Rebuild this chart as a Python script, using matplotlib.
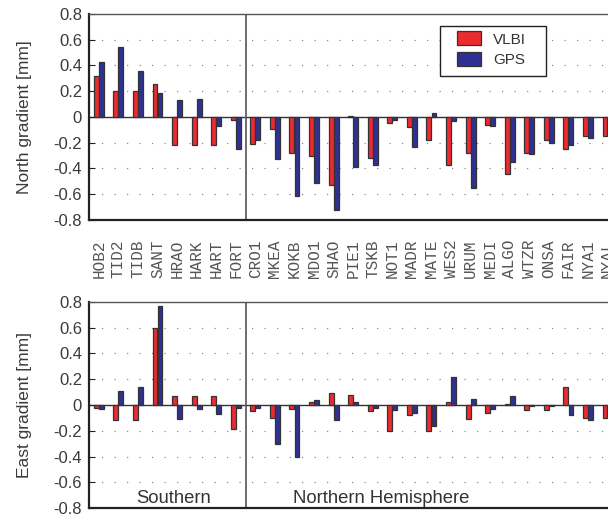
import numpy as np
import matplotlib
matplotlib.use("Agg")
import matplotlib.pyplot as plt
from matplotlib.patches import Rectangle

plt.rcParams.update({"font.family": "Liberation Sans", "axes.unicode_minus": False,
                     "font.size": 12})

RED = "#ed2a30"
BLUE = "#2e3192"
EDGE = "#333333"

stations = ["HOB2", "TID2", "TIDB", "SANT", "HRAO", "HARK", "HART", "FORT",
            "CRO1", "MKEA", "KOKB", "MDO1", "SHAO", "PIE1", "TSKB", "NOT1",
            "MADR", "MATE", "WES2", "URUM", "MEDI", "ALGO", "WTZR", "ONSA",
            "FAIR", "NYA1", "NYAL"]

# north gradients [mm]
north_vlbi = [0.32, 0.20, 0.20, 0.26, -0.22, -0.22, -0.22, -0.02,
              -0.21, -0.09, -0.28, -0.30, -0.53, 0.01, -0.32, -0.05,
              -0.08, -0.18, -0.37, -0.28, -0.06, -0.44, -0.28, -0.18,
              -0.25, -0.15, -0.15]
north_gps = [0.43, 0.54, 0.36, 0.19, 0.13, 0.14, -0.07, -0.25,
             -0.18, -0.33, -0.61, -0.51, -0.72, -0.39, -0.37, -0.02,
             -0.23, 0.03, -0.03, -0.55, -0.07, -0.35, -0.29, -0.20,
             -0.22, -0.16, -0.15]

# east gradients [mm]
east_vlbi = [-0.02, -0.12, -0.12, 0.60, 0.07, 0.07, 0.07, -0.19,
             -0.05, -0.10, -0.03, 0.02, 0.09, 0.08, -0.05, -0.20,
             -0.08, -0.20, 0.02, -0.11, -0.06, 0.01, -0.04, -0.04,
             0.14, -0.10, -0.10]
east_gps = [-0.03, 0.11, 0.14, 0.77, -0.11, -0.03, -0.07, -0.02,
            -0.02, -0.30, -0.40, 0.04, -0.12, 0.02, -0.02, -0.04,
            -0.06, -0.16, 0.22, 0.05, -0.03, 0.07, -0.01, -0.01,
            -0.08, -0.12, -0.10]

x = np.arange(len(stations))
n_south = 8
W = 0.25

fig = plt.figure(figsize=(6.08, 5.18), dpi=100)
ax1 = fig.add_axes([0.1464, 0.5753, 0.869, 0.3977])
ax2 = fig.add_axes([0.1464, 0.0193, 0.869, 0.3977])


def style(ax, ylabel):
    ax.set_xlim(-0.5, len(stations) - 0.5)
    ax.set_ylim(-0.8, 0.8)
    yt = np.round(np.arange(-0.8, 0.81, 0.2), 1)
    ax.set_yticks(yt)
    ax.set_yticklabels(["0" if v == 0 else f"{v:.1f}" for v in yt])
    for v in yt[1:-1]:
        if v != 0:
            ax.axhline(v, color="#8a8a8a", lw=0.9, ls=(0, (1, 9)), zorder=0)
    ax.axhline(0, color=EDGE, lw=1.0, zorder=1)
    ax.axvline(n_south - 0.5, color="#555555", lw=1.2, zorder=1)
    ax.tick_params(axis="y", direction="in", length=4, pad=5, colors="#222222",
                   labelcolor="#3a3a3a", labelsize=12)
    ax.set_ylabel(ylabel, color="#3a3a3a", fontsize=12.5)
    ax.yaxis.set_label_coords(-0.108, 0.5)
    for s in ["left", "bottom"]:
        ax.spines[s].set_linewidth(1.6)
        ax.spines[s].set_color("#222222")
    ax.spines["top"].set_linewidth(1.0)
    ax.spines["top"].set_color("#555555")


ax1.bar(x - 0.13, north_vlbi, W, color=RED, edgecolor=EDGE, lw=0.9, label="VLBI", zorder=2)
ax1.bar(x + 0.13, north_gps, W, color=BLUE, edgecolor=EDGE, lw=0.9, label="GPS", zorder=2)
style(ax1, "North gradient [mm]")
ax1.set_xticks(x)
ax1.set_xticklabels(stations, rotation=90, family="Liberation Mono", fontsize=11.5,
                    color="#555555")
ax1.tick_params(axis="x", length=0, pad=14)

# legend: frame drawn separately to match the wide padding of the original
ax1.add_patch(Rectangle((0.665, 0.699), 0.199, 0.243, transform=ax1.transAxes,
                        facecolor="white", edgecolor="#222222", lw=1.0, zorder=5))
leg = ax1.legend(loc="upper left", bbox_to_anchor=(0.697, 0.915), borderaxespad=0,
                 frameon=False, fontsize=11, handlelength=1.55, handleheight=1.0,
                 handletextpad=0.8, borderpad=0, labelspacing=0.38,
                 labelcolor="#333333")
leg.set_zorder(6)

ax2.bar(x - 0.13, east_vlbi, W, color=RED, edgecolor=EDGE, lw=0.9, zorder=2)
ax2.bar(x + 0.13, east_gps, W, color=BLUE, edgecolor=EDGE, lw=0.9, zorder=2)
style(ax2, "East gradient [mm]")
ax2.set_xticks([])
ax2.text(3.8, -0.765, "Southern", ha="center", va="baseline", fontsize=13.3,
         color="#333333")
ax2.text(14.44, -0.765, "Northern Hemisphere", ha="center", va="baseline",
         fontsize=13.3, color="#333333")

fig.savefig("out.png", dpi=100)
